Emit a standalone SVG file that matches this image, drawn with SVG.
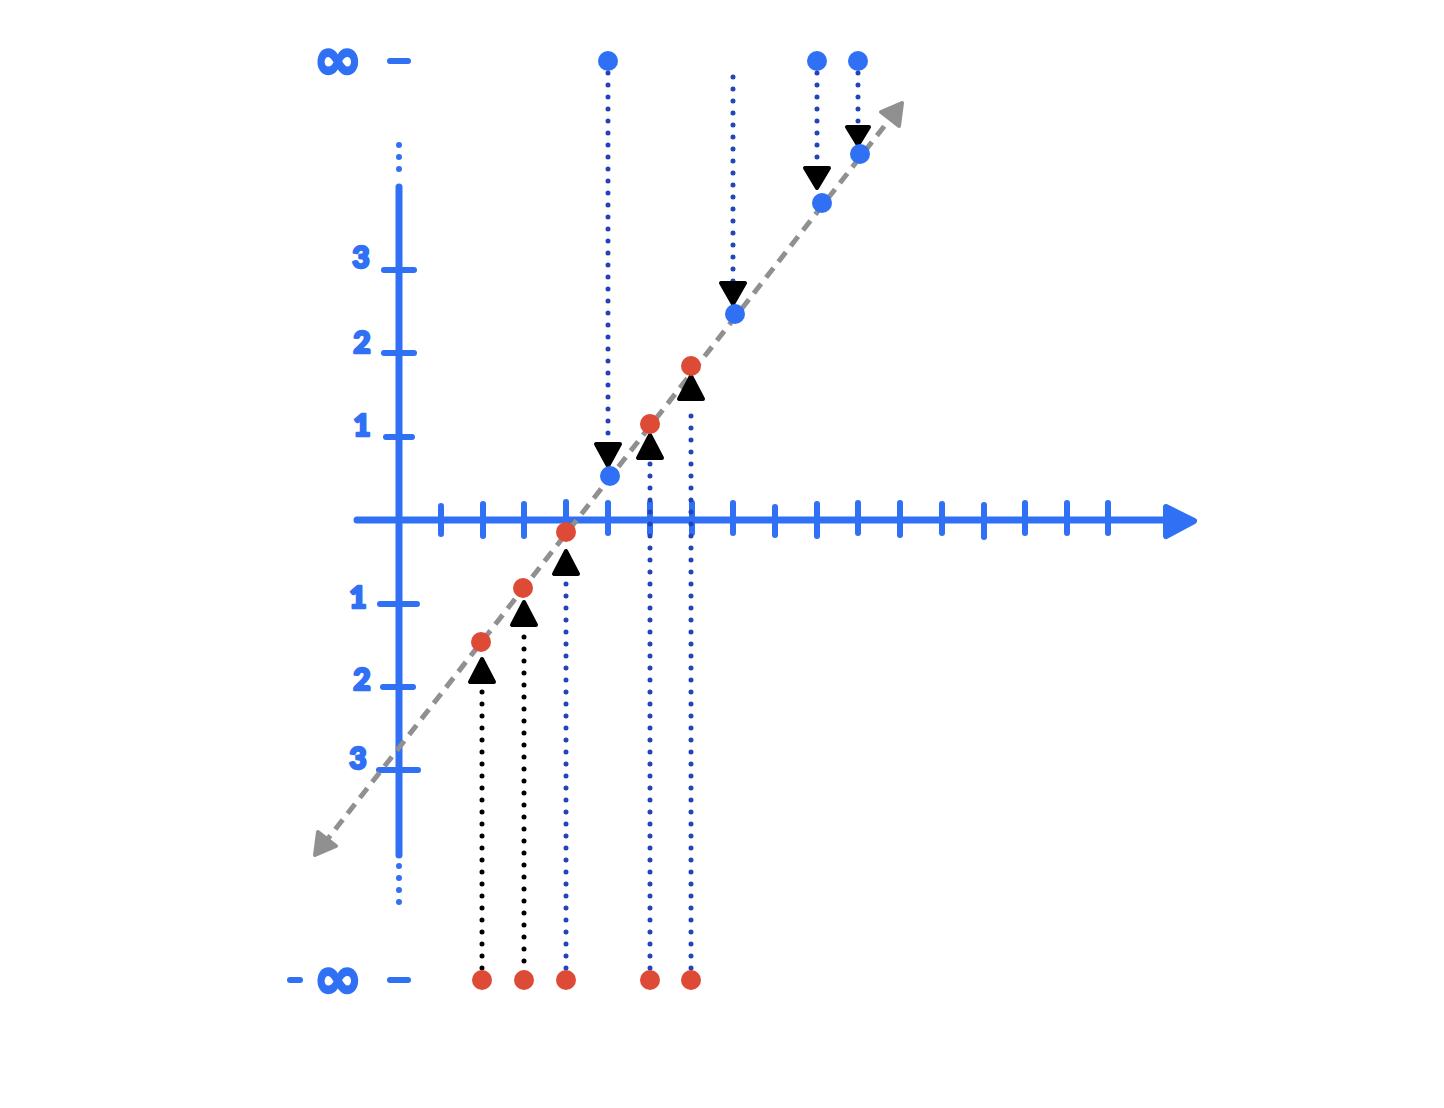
<svg xmlns="http://www.w3.org/2000/svg" width="1444" height="1108" viewBox="0 0 1444 1108">
<defs>
<style>
.ax{stroke:#3070f4;stroke-width:7;stroke-linecap:round;fill:none}
.tk{stroke:#3070f4;stroke-width:6;stroke-linecap:round;fill:none}
.lbl{fill:#3070f4;stroke:#3070f4;stroke-width:2.5;stroke-linejoin:round;font-family:"Lato","Liberation Sans",sans-serif;font-weight:900;font-size:30px;text-anchor:middle}
.inf{fill:#3070f4;stroke:#3070f4;stroke-width:3;stroke-linejoin:round;font-family:"DejaVu Sans","Liberation Sans",sans-serif;font-weight:bold;font-size:58px;text-anchor:middle}
.dotb{stroke:#2244b8;stroke-width:5;stroke-linecap:round;stroke-dasharray:0 12;fill:none}
.dotk{stroke:#000;stroke-width:5;stroke-linecap:round;stroke-dasharray:0 12;fill:none}
.dotl{stroke:#3070f4;stroke-width:6;stroke-linecap:round;stroke-dasharray:0 12;fill:none}
.bl{fill:#3070f4}
.rd{fill:#dd4a36}
.ah{fill:#000;stroke:#000;stroke-width:4;stroke-linejoin:round}
</style>
</defs>
<g id="axes">
<line class="ax" x1="399" y1="187" x2="399" y2="855"/>
<line class="dotl" x1="399" y1="145" x2="399" y2="170"/>
<line class="dotl" x1="399" y1="866" x2="399" y2="903"/>
<line class="ax" x1="357" y1="520" x2="1170" y2="520"/>
<path d="M1166 507 L1194 521 L1166 536 Z" fill="#3070f4" stroke="#3070f4" stroke-width="6" stroke-linejoin="round"/>
<g class="tk">
<line x1="384" y1="270" x2="414" y2="270"/>
<line x1="384" y1="353" x2="414" y2="353"/>
<line x1="386" y1="437" x2="412" y2="437"/>
<line x1="380" y1="604" x2="417" y2="604"/>
<line x1="383" y1="687" x2="413" y2="687"/>
<line x1="379" y1="770" x2="418" y2="770"/>
<line x1="441" y1="506" x2="441" y2="534"/>
<line x1="483" y1="504" x2="483" y2="536"/>
<line x1="524" y1="504" x2="524" y2="536"/>
<line x1="566" y1="502" x2="566" y2="536"/>
<line x1="608" y1="503" x2="608" y2="533"/>
<line x1="650" y1="503" x2="650" y2="533"/>
<line x1="692" y1="503" x2="692" y2="533"/>
<line x1="733" y1="503" x2="733" y2="533"/>
<line x1="775" y1="507" x2="775" y2="535"/>
<line x1="817" y1="504" x2="817" y2="536"/>
<line x1="858" y1="503" x2="858" y2="533"/>
<line x1="900" y1="503" x2="900" y2="535"/>
<line x1="942" y1="504" x2="942" y2="533"/>
<line x1="984" y1="505" x2="984" y2="537"/>
<line x1="1025" y1="503" x2="1025" y2="533"/>
<line x1="1067" y1="503" x2="1067" y2="533"/>
<line x1="1108" y1="503" x2="1108" y2="533"/>
<line x1="390" y1="61" x2="408" y2="61"/>
<line x1="390" y1="980" x2="408" y2="980"/>
<line x1="290" y1="980" x2="300" y2="980"/>
</g>
</g>
<g id="labels">
<text class="lbl" x="361" y="268">3</text>
<text class="lbl" x="362" y="353">2</text>
<text class="lbl" x="362" y="436">1</text>
<text class="lbl" x="358" y="608">1</text>
<text class="lbl" x="362" y="690">2</text>
<text class="lbl" x="358" y="769">3</text>
<text class="inf" x="338" y="79">∞</text>
<text class="inf" x="338" y="998">∞</text>
</g>
<g id="connectors">
<line x1="323" y1="845" x2="893" y2="115" stroke="#909090" stroke-width="5" stroke-dasharray="12 8"/>
<path d="M315 855 L318 832 L336 846 Z" fill="#909090" stroke="#909090" stroke-width="4" stroke-linejoin="round"/>
<path d="M902 103 L899 126 L881 112 Z" fill="#909090" stroke="#909090" stroke-width="4" stroke-linejoin="round"/>
<line class="dotb" x1="608" y1="73" x2="608" y2="445"/>
<line class="dotb" x1="733" y1="77" x2="733" y2="285"/>
<line class="dotb" x1="817" y1="73" x2="817" y2="170"/>
<line class="dotb" x1="858" y1="73" x2="858" y2="128"/>
<line class="dotk" x1="482" y1="968" x2="482" y2="685"/>
<line class="dotk" x1="524" y1="985" x2="524" y2="625"/>
<line class="dotb" x1="566" y1="968" x2="566" y2="578"/>
<line class="dotb" x1="650" y1="968" x2="650" y2="462"/>
<line class="dotb" x1="691" y1="968" x2="691" y2="404"/>
<path class="ah" d="M596 444 L620 444 L608 466 Z"/>
<path class="ah" d="M721 283 L745 283 L733 304 Z"/>
<path class="ah" d="M805 168 L829 168 L817 188 Z"/>
<path class="ah" d="M847 127 L869 127 L858 145 Z"/>
<path class="ah" d="M470 682 L494 682 L482 659 Z"/>
<path class="ah" d="M512 625 L536 625 L524 602 Z"/>
<path class="ah" d="M554 574 L578 574 L566 551 Z"/>
<path class="ah" d="M638 458 L662 458 L650 435 Z"/>
<path class="ah" d="M679 399 L703 399 L691 376 Z"/>
</g>
<g id="points">
<circle class="bl" cx="608" cy="61" r="10"/>
<circle class="bl" cx="817" cy="61" r="10"/>
<circle class="bl" cx="858" cy="61" r="10"/>
<circle class="bl" cx="610" cy="476" r="10"/>
<circle class="bl" cx="735" cy="314" r="10"/>
<circle class="bl" cx="822" cy="203" r="10"/>
<circle class="bl" cx="860" cy="154" r="10"/>
<circle class="rd" cx="481" cy="642" r="10"/>
<circle class="rd" cx="523" cy="588" r="10"/>
<circle class="rd" cx="566" cy="532" r="10"/>
<circle class="rd" cx="650" cy="424" r="10"/>
<circle class="rd" cx="691" cy="366" r="10"/>
<circle class="rd" cx="482" cy="980" r="10"/>
<circle class="rd" cx="524" cy="980" r="10"/>
<circle class="rd" cx="566" cy="980" r="10"/>
<circle class="rd" cx="650" cy="980" r="10"/>
<circle class="rd" cx="691" cy="980" r="10"/>
</g>
</svg>
